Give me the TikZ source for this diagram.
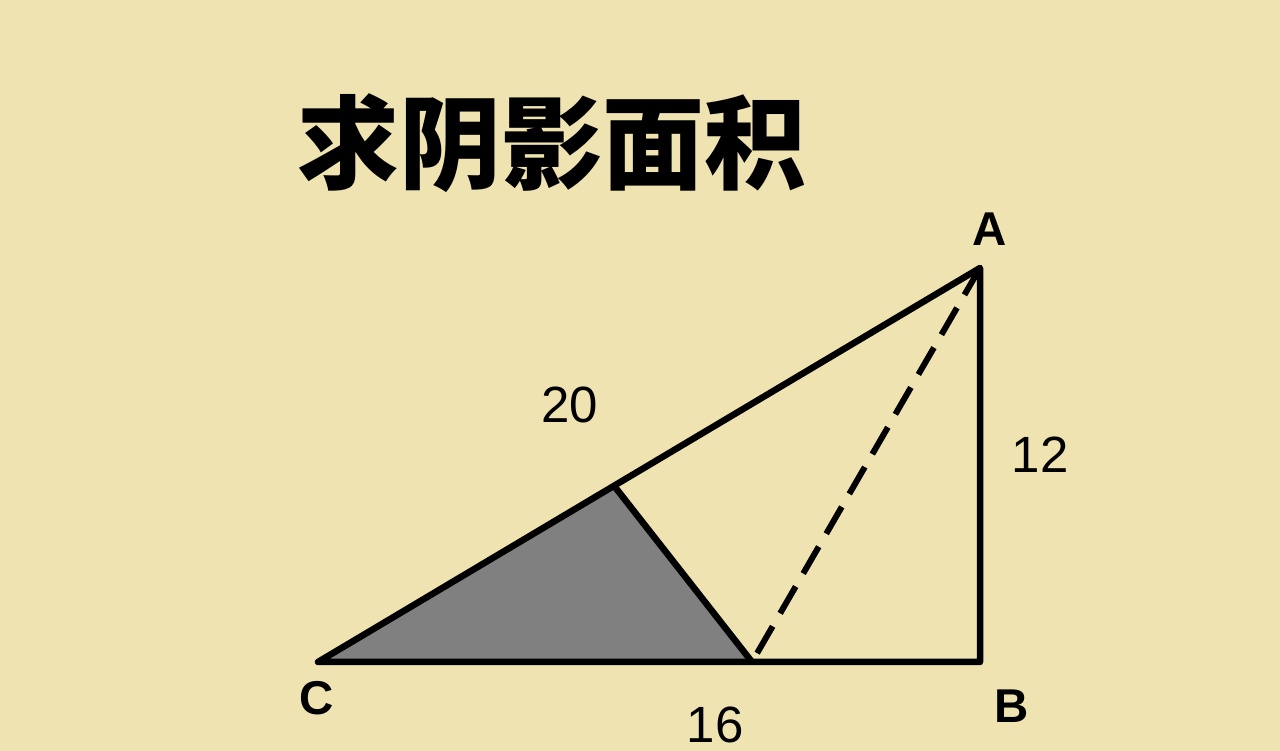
\documentclass[tikz,border=0pt]{standalone}
\usepackage{fontspec}
\setmainfont{Liberation Sans}
\newfontfamily\cjk{Noto Sans CJK SC}
\usetikzlibrary{calc}
\definecolor{paper}{RGB}{239,228,177}
\definecolor{shadegray}{RGB}{128,128,128}
\tikzset{
    edge/.style = {
        line width=3.7pt,
        line join=round
    },
    foldline/.style = {
        line width=3.4pt,
        dash pattern=on 0.62cm off 0.3cm
    },
    vertexlabel/.style = {
        font=\fontsize{27}{30}\selectfont\bfseries
    },
    lengthlabel/.style = {
        font=\fontsize{29}{32}\selectfont
    }
}

\begin{document}
\begin{tikzpicture}
\fill[paper] (0,0) rectangle (25.6,15.02);
\useasboundingbox (0,0) rectangle (25.6,15.02);

% title
\node (title) at (11.04,12.16) {\cjk\bfseries\fontsize{58}{60}\selectfont 求阴影面积};

% triangle
\coordinate (C) at (6.36,1.78);
\coordinate (B) at (19.6,1.78);
\coordinate (A) at (19.6,9.66);
\coordinate (D) at (12.3,5.28);
\coordinate (E) at (15.04,1.78);

\fill[shadegray] (C) -- (D) -- (E) -- cycle;
\draw[edge] (C) -- (B) -- (A) -- cycle;
\draw[edge] (D) -- (E);
\draw[foldline] (A) -- (E);

% labels
\node (labA) [vertexlabel] at (19.8,10.44) {A};
\node (labB) [vertexlabel] at (20.24,0.9) {B};
\node (labC) [vertexlabel] at (6.34,1.06) {C};
\node (len20) [lengthlabel] at (11.4,6.92) {20};
\node (len12) [lengthlabel] at (20.8,5.92) {12};
\node (len16) [lengthlabel] at (14.3,0.52) {16};
\end{tikzpicture}
\end{document}
